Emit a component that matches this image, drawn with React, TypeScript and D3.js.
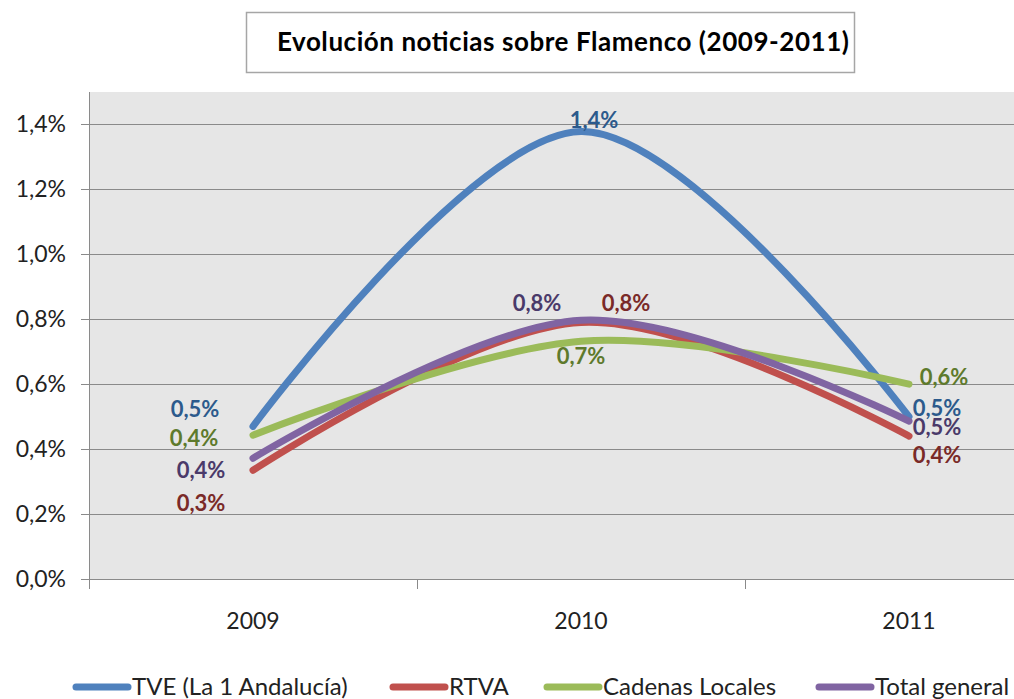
import React, { useEffect, useRef } from 'react';
import * as d3 from 'd3';

const years = ['2009', '2010', '2011'];
const seriesNames = ['TVE (La 1 Andalucía)', 'RTVA', 'Cadenas Locales', 'Total general'];
const tve = [0.0047, 0.01378, 0.005];
const rtva = [0.00335, 0.0079, 0.0044];
const cadenas = [0.00443, 0.00732, 0.006];
const total = [0.00372, 0.00797, 0.00486];
const yTicks = [0, 0.002, 0.004, 0.006, 0.008, 0.01, 0.012, 0.014];

const lineColors = ['#4f81bd', '#c0504d', '#9bbb59', '#8064a2'];
const labelColors = ['#2c5a8c', '#7a2a28', '#5e7a2c', '#4a3a6a'];
// label offsets (dx, dy) from each point, per series / year
const labelOffsets = [
  [[-58, -17], [13, -12], [28, -9]],
  [[-52, 33], [45, -20], [28, 19]],
  [[-59, 3], [0, 15], [35, -7]],
  [[-52, 12], [-44, -17], [28, 6]],
];

const App = () => {
  const svgRef = useRef(null);

  useEffect(() => {
    const width = 1014;
    const height = 699;
    const left = 89;
    const plotTop = 92;
    const bottom = 579;
    const step = 328;

    const svg = d3.select(svgRef.current);
    svg.selectAll('*').remove();
    svg.attr('width', width).attr('height', height);

    const font = 'Lato, "DejaVu Sans", sans-serif';
    const data = [tve, rtva, cadenas, total];

    const x = d3.scalePoint()
      .domain(years)
      .range([left + step / 2, left + step * 2.5]);
    const y = d3.scaleLinear().domain([0, 0.015]).range([bottom, plotTop]);

    svg.append('rect')
      .attr('x', 0).attr('y', 0).attr('width', width).attr('height', height)
      .attr('fill', '#ffffff');

    // title box
    svg.append('rect')
      .attr('x', 246.5).attr('y', 12.5).attr('width', 608).attr('height', 60)
      .attr('fill', '#ffffff').attr('stroke', '#a6a6a6').attr('stroke-width', 1.5);
    svg.append('text')
      .attr('x', 563).attr('y', 51)
      .attr('text-anchor', 'middle')
      .attr('font-family', font).attr('font-size', 26).attr('font-weight', 'bold')
      .attr('fill', '#000')
      .attr('textLength', 572).attr('lengthAdjust', 'spacing')
      .text('Evolución noticias sobre Flamenco (2009-2011)');

    // plot area
    svg.append('rect')
      .attr('x', left).attr('y', plotTop)
      .attr('width', width - left).attr('height', bottom - plotTop)
      .attr('fill', '#e6e6e6');

    const grid = svg.append('g');
    yTicks.forEach(t => {
      grid.append('line')
        .attr('x1', left - 8).attr('x2', width)
        .attr('y1', Math.round(y(t)) + 0.5).attr('y2', Math.round(y(t)) + 0.5)
        .attr('stroke', '#8a8a8a').attr('stroke-width', 1);
      grid.append('text')
        .attr('x', 66).attr('y', y(t) + 8)
        .attr('text-anchor', 'end')
        .attr('font-family', font).attr('font-size', 23)
        .attr('fill', '#222')
        .text(d3.format('.1%')(t).replace('.', ','));
    });

    // axes lines
    svg.append('line')
      .attr('x1', left + 0.5).attr('x2', left + 0.5)
      .attr('y1', plotTop).attr('y2', bottom + 10)
      .attr('stroke', '#8a8a8a');
    [0, 1, 2].forEach(i => {
      const tx = Math.round(left + step * i) + 0.5;
      svg.append('line')
        .attr('x1', tx).attr('x2', tx)
        .attr('y1', bottom).attr('y2', bottom + 10)
        .attr('stroke', '#8a8a8a');
    });
    years.forEach(yr => {
      svg.append('text')
        .attr('x', x(yr)).attr('y', 629)
        .attr('text-anchor', 'middle')
        .attr('font-family', font).attr('font-size', 23)
        .attr('fill', '#222')
        .text(yr);
    });

    const line = d3.line<number>()
      .x((d, i) => x(years[i]))
      .y(d => y(d))
      .curve(d3.curveCatmullRom.alpha(0));

    data.forEach((s, k) => {
      svg.append('path')
        .attr('d', line(s))
        .attr('fill', 'none')
        .attr('stroke', lineColors[k])
        .attr('stroke-width', 7)
        .attr('stroke-linecap', 'round');
    });

    data.forEach((s, k) => {
      s.forEach((v, i) => {
        const [dx, dy] = labelOffsets[k][i];
        svg.append('text')
          .attr('x', x(years[i]) + dx).attr('y', y(v) + dy + 8)
          .attr('text-anchor', 'middle')
          .attr('font-family', font).attr('font-size', 22).attr('font-weight', 'bold')
          .attr('fill', labelColors[k])
          .text(d3.format('.1%')(v).replace('.', ','));
      });
    });

    // legend
    const legendX = [72, 389, 543, 815];
    seriesNames.forEach((name, k) => {
      const lx = legendX[k];
      svg.append('line')
        .attr('x1', lx + 4).attr('x2', lx + 56)
        .attr('y1', 687).attr('y2', 687)
        .attr('stroke', lineColors[k]).attr('stroke-width', 7)
        .attr('stroke-linecap', 'round');
      svg.append('text')
        .attr('x', lx + 60).attr('y', 695)
        .attr('font-family', font).attr('font-size', 24)
        .attr('fill', '#222')
        .text(name);
    });
  }, []);

  return (
    <svg ref={svgRef} style={{ position: 'absolute', left: 0, top: 0, display: 'block' }} />
  );
};

export default App;
